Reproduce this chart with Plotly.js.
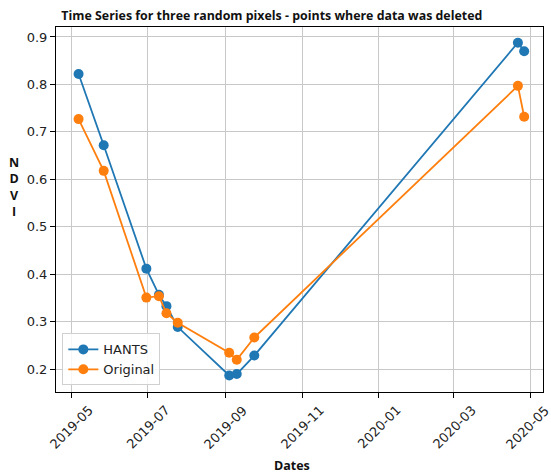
<!DOCTYPE html>
<html>
<head>
<meta charset="utf-8">
<script src="https://cdn.plot.ly/plotly-3.0.1.min.js"></script>
<style>html,body{margin:0;padding:0;background:#fff;}#chart{width:551px;height:475px;}</style>
</head>
<body>
<div id="chart"></div>
<script>
const dates = ["2019-05-07","2019-05-27","2019-06-30","2019-07-10","2019-07-16","2019-07-25","2019-09-04","2019-09-10","2019-09-24","2020-04-21","2020-04-26"];
const hants = [0.822,0.672,0.412,0.357,0.333,0.289,0.187,0.190,0.229,0.888,0.870];
const original = [0.727,0.618,0.351,0.354,0.318,0.298,0.235,0.220,0.267,0.797,0.732];
const xTicks = ["2019-05-01","2019-07-01","2019-09-01","2019-11-01","2020-01-01","2020-03-01","2020-05-01"];
const xTickLabels = ["2019-05","2019-07","2019-09","2019-11","2020-01","2020-03","2020-05"];
const yTicks = [0.2,0.3,0.4,0.5,0.6,0.7,0.8,0.9];

const traces = [
  {x: dates, y: hants, name: "HANTS", mode: "lines+markers", type: "scatter",
   line: {color: "#1f77b4", width: 1.8}, marker: {color: "#1f77b4", size: 10}},
  {x: dates, y: original, name: "Original", mode: "lines+markers", type: "scatter",
   line: {color: "#ff7f0e", width: 1.8}, marker: {color: "#ff7f0e", size: 10}}
];

const tickAnnotations = xTicks.map((d, i) => ({
  text: xTickLabels[i], x: d, xref: "x", yref: "paper", y: -0.096,
  xanchor: "center", yanchor: "middle", textangle: -45, showarrow: false,
  xshift: i === xTicks.length - 1 ? -3 : 0,
  font: {family: "DejaVu Sans", size: 13, color: "#222"}
}));

const layout = {
  width: 551, height: 475,
  margin: {l: 56, r: 8, t: 27, b: 83},
  paper_bgcolor: "#fff", plot_bgcolor: "#fff",
  font: {family: "DejaVu Sans", size: 13, color: "#222"},
  title: {text: "<b>Time Series for three random pixels - points where data was deleted</b>",
    x: 0.011, xanchor: "left", y: 0.966, yanchor: "middle", xref: "paper",
    font: {family: "Open Sans", size: 12.4, color: "#111"}},
  xaxis: {
    type: "date", range: ["2019-04-19", "2020-05-11"],
    tickvals: xTicks, showticklabels: false,
    showgrid: true, gridcolor: "#c8c8c8", gridwidth: 1,
    showline: true, linecolor: "#000", linewidth: 1, mirror: true,
    ticks: "outside", ticklen: 5, tickcolor: "#000",
    zeroline: false
  },
  yaxis: {
    range: [0.1522, 0.921],
    tickvals: yTicks, ticktext: yTicks.map(v => v.toFixed(1)),
    showgrid: true, gridcolor: "#c8c8c8", gridwidth: 1,
    showline: true, linecolor: "#000", linewidth: 1, mirror: true,
    ticks: "outside", ticklen: 5, tickcolor: "#000",
    tickfont: {family: "DejaVu Sans", size: 13, color: "#222"},
    zeroline: false
  },
  legend: {
    x: 0.013, y: 0.018, xanchor: "left", yanchor: "bottom",
    bgcolor: "rgba(255,255,255,0.85)", bordercolor: "#d0d0d0", borderwidth: 1,
    font: {family: "DejaVu Sans", size: 13, color: "#222"},
    itemwidth: 30, tracegroupgap: 0
  },
  annotations: [
    {text: "<b>N<br>D<br>V<br>I</b>", xref: "paper", yref: "paper", x: -0.087, y: 0.562,
     xanchor: "center", yanchor: "middle", showarrow: false, align: "center",
     font: {family: "Open Sans", size: 12.5, color: "#111"}},
    {text: "<b>Dates</b>", xref: "paper", yref: "paper", x: 0.485, y: -0.2,
     xanchor: "center", yanchor: "middle", showarrow: false,
     font: {family: "Open Sans", size: 12.5, color: "#111"}}
  ].concat(tickAnnotations),
  showlegend: true
};

Plotly.newPlot("chart", traces, layout, {displayModeBar: false, staticPlot: true});
</script>
</body>
</html>
